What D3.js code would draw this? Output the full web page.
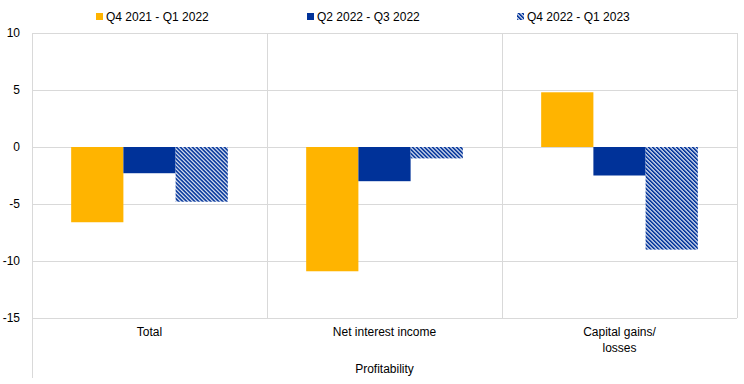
<!DOCTYPE html>
<html><head><meta charset="utf-8">
<script src="https://cdn.jsdelivr.net/npm/d3@7"></script>
<style>
body{margin:0;background:#fff;}
text{font-family:"Liberation Sans",Arial,sans-serif;font-size:12px;fill:#000;}
</style></head>
<body><svg id="c" width="744" height="384"></svg>
<script>
const categories = ["Total", "Net interest income", "Capital gains/\nlosses"];
const seriesNames = ["Q4 2021 - Q1 2022", "Q2 2022 - Q3 2022", "Q4 2022 - Q1 2023"];
const q4_2021_q1_2022 = [-6.6, -10.9, 4.8];
const q2_2022_q3_2022 = [-2.3, -3.0, -2.5];
const q4_2022_q1_2023 = [-4.8, -1.0, -9.0];
const yTicks = [10, 5, 0, -5, -10, -15];
const groupLabel = "Profitability";

const series = [q4_2021_q1_2022, q2_2022_q3_2022, q4_2022_q1_2023];
const svg = d3.select("#c");
const defs = svg.append("defs");
const pat = defs.append("pattern").attr("id","hatch").attr("patternUnits","userSpaceOnUse")
  .attr("width",2.83).attr("height",10).attr("patternTransform","rotate(-45)");
pat.append("rect").attr("width",2.83).attr("height",10).attr("fill","#fff");
pat.append("rect").attr("width",1.7).attr("height",10).attr("fill","#003299");
const fills = ["#FFB400","#003299","url(#hatch)"];

const L=32, R=737, T=33, B=318;
const x0 = d3.scaleBand().domain(categories).range([L,R]).paddingInner(0).paddingOuter(0);
const x1 = d3.scaleBand().domain(d3.range(3)).range([0,x0.bandwidth()]).paddingOuter(0.75).paddingInner(0);
const y = d3.scaleLinear().domain([-15,10]).range([B,T]);

// gridlines
svg.append("g").selectAll("line").data(yTicks).join("line")
  .attr("x1",L).attr("x2",R).attr("y1",d=>y(d)).attr("y2",d=>y(d))
  .attr("stroke","#d9d9d9").attr("stroke-width",1).attr("shape-rendering","crispEdges");
// category separators
svg.append("g").selectAll("line").data(categories).join("line")
  .attr("x1",d=>x0(d)+x0.bandwidth()).attr("x2",d=>x0(d)+x0.bandwidth())
  .attr("y1",T).attr("y2",B)
  .attr("stroke","#d9d9d9").attr("stroke-width",1).attr("shape-rendering","crispEdges");
// left axis line
svg.append("line").attr("x1",L).attr("x2",L).attr("y1",T).attr("y2",378)
  .attr("stroke","#d9d9d9").attr("stroke-width",1).attr("shape-rendering","crispEdges");

// y tick labels
svg.append("g").selectAll("text").data(yTicks).join("text")
  .attr("x",20).attr("y",d=>y(d)).attr("dy","0.35em").attr("text-anchor","end").text(d=>d);

// bars
categories.forEach((c,ci)=>{
  series.forEach((s,si)=>{
    const v = s[ci];
    svg.append("rect")
      .attr("x",x0(c)+x1(si)).attr("width",x1.bandwidth())
      .attr("y",y(Math.max(0,v))).attr("height",Math.abs(y(v)-y(0)))
      .attr("fill",fills[si]);
  });
});

// category labels
categories.forEach(c=>{
  const lines=c.split("\n");
  const t=svg.append("text").attr("text-anchor","middle").attr("x",x0(c)+x0.bandwidth()/2).attr("y",336);
  lines.forEach((ln,i)=>t.append("tspan").attr("x",x0(c)+x0.bandwidth()/2).attr("dy",i?16:0).text(ln));
});
svg.append("text").attr("text-anchor","middle").attr("x",(L+R)/2).attr("y",373).text(groupLabel);

// legend
const legX=[96,307,517];
seriesNames.forEach((n,i)=>{
  svg.append("rect").attr("x",legX[i]).attr("y",13).attr("width",7).attr("height",7).attr("fill",fills[i]);
  svg.append("text").attr("x",legX[i]+10).attr("y",20.5).text(n);
});
</script></body></html>
